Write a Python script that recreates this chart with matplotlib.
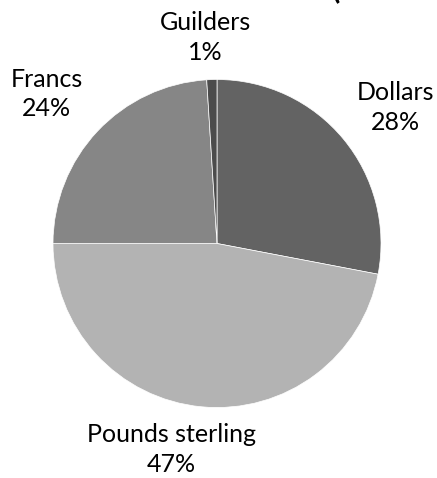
import matplotlib.pyplot as plt

# currency shares
currencies = ["Dollars", "Pounds sterling", "Francs", "Guilders"]
shares = [28, 47, 24, 1]
colors = ["#636363", "#b3b3b3", "#868686", "#4c4c4c"]

# label spots, in units of the pie radius (Excel "best fit" look)
label_xy = [(1.09, 0.83), (-0.28, -1.255), (-1.037, 0.912), (-0.073, 1.256)]

fig = plt.figure(figsize=(4.37, 4.78), dpi=100)
ax = fig.add_axes([53 / 437, (478 - 243.5 - 164) / 478, 328 / 437, 328 / 478])

wedges, _ = ax.pie(shares, colors=colors, startangle=90, counterclock=False,
                   wedgeprops=dict(edgecolor="white", linewidth=0.5))
ax.set_xlim(-1, 1)
ax.set_ylim(-1, 1)
ax.set_aspect("equal")
ax.axis("off")

for name, pct, (x, y) in zip(currencies, shares, label_xy):
    ax.text(x, y, f"{name}\n{pct}%", ha="center", va="center",
            fontsize=18, family="Lato", linespacing=1.35, color="black")

# cropped title remnant
fig.text(336 / 437, 1 - 3 / 478, "(", fontsize=22, fontweight="bold",
         ha="center", va="bottom", family="Lato")

fig.savefig("out.png", dpi=100)
